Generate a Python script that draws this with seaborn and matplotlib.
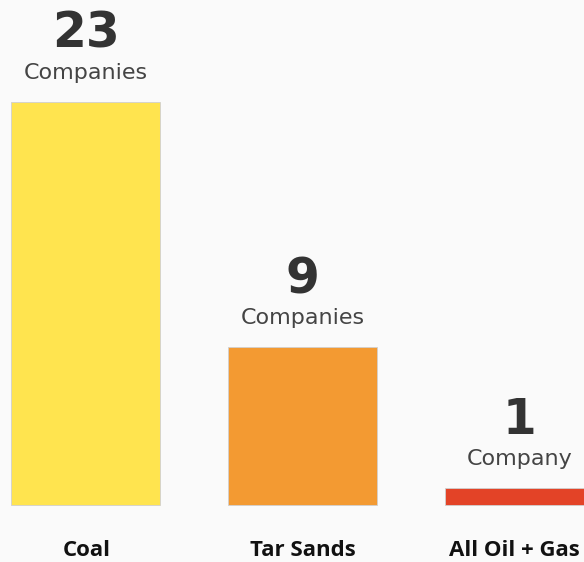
import matplotlib
matplotlib.use("Agg")
import matplotlib.pyplot as plt
import seaborn as sns
import pandas as pd

categories = ["Coal", "Tar Sands", "All Oil + Gas"]
values = [23, 9, 1]
units = ["Companies", "Companies", "Company"]
colors = ["#FFE44F", "#F39A32", "#E34327"]

sns.set_theme(style="white")
plt.rcParams["font.family"] = ["DejaVu Sans"]

df = pd.DataFrame({"category": categories, "value": values})

fig = plt.figure(figsize=(5.84, 5.62), dpi=100, facecolor="#fafafa")
ax = fig.add_axes([0, 0, 1, 1])
ax.set_facecolor("#fafafa")

sns.barplot(data=df, x="category", y="value", hue="category",
            palette=colors, width=0.69, ax=ax, legend=False, saturation=1,
            edgecolor="#d0d0d0", linewidth=0.6)

ax.set_xlim(-0.394, 2.297)
ax.set_ylim(-3.25, 28.82)

label_shift = [1, 0, -5]
for i, (v, u) in enumerate(zip(values, units)):
    ax.annotate(str(v), (i, v), xytext=(0, 68), textcoords="offset pixels",
                ha="center", va="center", fontsize=35, fontweight="heavy",
                color="#333333", family="DejaVu Sans")
    ax.annotate(u, (i, v), xytext=(0, 29), textcoords="offset pixels",
                ha="center", va="center", fontsize=16, color="#444444",
                family="DejaVu Sans")
    ax.annotate(categories[i], (i, -2.57), xytext=(label_shift[i], 0),
                textcoords="offset pixels", ha="center", va="center",
                fontsize=16, fontweight="bold", color="#111111",
                family="Open Sans")

ax.set_xlabel("")
ax.set_ylabel("")
ax.set_xticks([])
ax.set_yticks([])
for s in ax.spines.values():
    s.set_visible(False)

fig.savefig("out.png", dpi=100, facecolor="#fafafa")
